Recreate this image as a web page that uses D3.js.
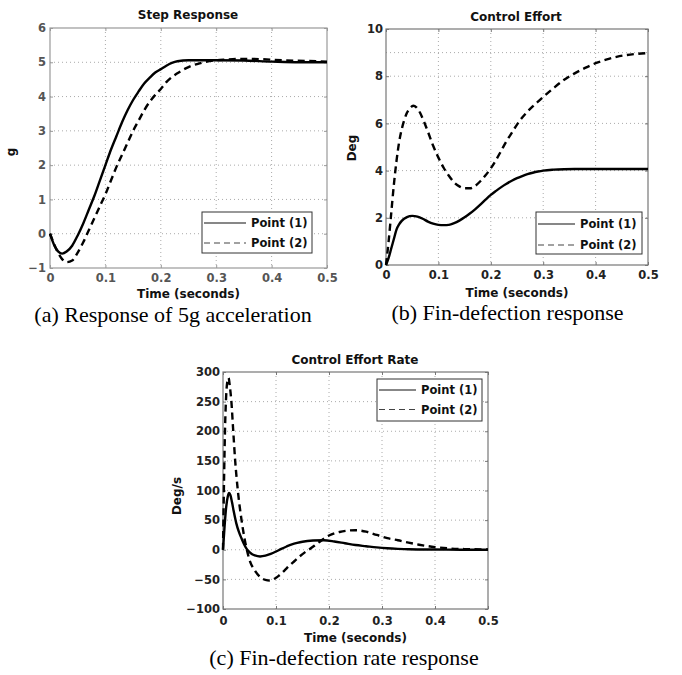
<!DOCTYPE html>
<html>
<head>
<meta charset="utf-8">
<script src="https://cdn.jsdelivr.net/npm/d3@7"></script>
<style>
  body { margin: 0; background: #fff; }
  svg text { font-family: "DejaVu Sans", sans-serif; font-weight: bold; }
  svg text.cap { font-family: "Liberation Serif", "Times New Roman", serif; font-weight: normal; }
</style>
</head>
<body>
<svg id="fig" width="682" height="675"></svg>
<script>
// ---- data ----
const xTicks = [0, 0.1, 0.2, 0.3, 0.4, 0.5];
const legendNames = ["Point (1)", "Point (2)"];

// (a) step response, g
const stepT1 = [0,0.008,0.015,0.022,0.03,0.04,0.05,0.06,0.07,0.08,0.09,0.1,0.11,0.12,0.13,0.14,0.15,0.16,0.17,0.18,0.19,0.2,0.21,0.22,0.23,0.25,0.3,0.35,0.4,0.45,0.5];
const stepP1 = [0,-0.35,-0.52,-0.58,-0.52,-0.35,-0.05,0.3,0.7,1.1,1.55,2.0,2.45,2.85,3.25,3.6,3.9,4.15,4.38,4.55,4.7,4.8,4.9,4.98,5.03,5.06,5.06,5.05,5.02,5.0,5.0];
const stepT2 = [0,0.01,0.02,0.03,0.04,0.05,0.06,0.07,0.08,0.09,0.1,0.11,0.12,0.13,0.14,0.15,0.16,0.17,0.18,0.19,0.2,0.21,0.22,0.23,0.24,0.25,0.27,0.29,0.32,0.35,0.38,0.42,0.46,0.5];
const stepP2 = [0,-0.4,-0.7,-0.83,-0.78,-0.55,-0.25,0.1,0.45,0.8,1.15,1.55,1.95,2.3,2.65,3.0,3.3,3.6,3.85,4.05,4.22,4.42,4.57,4.68,4.78,4.86,4.97,5.04,5.08,5.1,5.09,5.06,5.04,5.02];
const stepYTicks = [-1, 0, 1, 2, 3, 4, 5, 6];

// (b) control effort, deg
const effT1 = [0,0.005,0.01,0.015,0.02,0.025,0.03,0.04,0.05,0.06,0.07,0.08,0.09,0.1,0.11,0.12,0.13,0.14,0.15,0.16,0.17,0.18,0.19,0.2,0.21,0.22,0.23,0.24,0.25,0.26,0.27,0.28,0.29,0.3,0.32,0.34,0.36,0.4,0.45,0.5];
const effP1 = [0,0.3,0.7,1.1,1.5,1.72,1.87,2.03,2.08,2.05,1.96,1.84,1.75,1.7,1.69,1.7,1.77,1.88,2.02,2.18,2.36,2.56,2.77,2.97,3.14,3.3,3.44,3.57,3.68,3.77,3.85,3.91,3.96,4.0,4.04,4.06,4.07,4.07,4.07,4.07];
const effT2 = [0,0.005,0.01,0.015,0.02,0.025,0.03,0.035,0.04,0.046,0.052,0.058,0.065,0.072,0.08,0.09,0.1,0.11,0.12,0.13,0.14,0.15,0.16,0.17,0.18,0.19,0.2,0.21,0.22,0.23,0.24,0.25,0.26,0.27,0.28,0.29,0.3,0.32,0.34,0.36,0.38,0.4,0.42,0.44,0.46,0.48,0.5];
const effP2 = [0,1.0,2.2,3.4,4.4,5.2,5.75,6.15,6.45,6.65,6.75,6.68,6.45,6.1,5.65,5.05,4.55,4.12,3.78,3.5,3.33,3.25,3.25,3.35,3.55,3.8,4.1,4.45,4.85,5.25,5.6,5.95,6.25,6.5,6.72,6.92,7.12,7.5,7.85,8.12,8.35,8.55,8.7,8.82,8.9,8.95,8.98];
const effYTicks = [0, 2, 4, 6, 8, 10];
const effYGrid = [2, 4, 6, 8, 9];

// (c) control effort rate, deg/s
const rateT1 = [0,0.003,0.006,0.009,0.0115,0.014,0.017,0.02,0.025,0.03,0.035,0.04,0.045,0.05,0.055,0.06,0.07,0.08,0.09,0.1,0.11,0.12,0.13,0.14,0.15,0.17,0.19,0.21,0.23,0.25,0.27,0.29,0.31,0.33,0.35,0.4,0.45,0.5];
const rateP1 = [0,40,72,90,96,92,80,66,45,30,19,9,1,-4,-7.5,-9.5,-11.3,-10,-7,-3,1.5,5.5,9,11.5,13.5,15.5,16,14,11,8,6,4,2.5,1.5,0.8,0.3,0.1,0];
const rateT2 = [0,0.002,0.004,0.006,0.008,0.0105,0.013,0.016,0.019,0.023,0.028,0.035,0.04,0.045,0.05,0.06,0.07,0.08,0.088,0.095,0.105,0.115,0.125,0.135,0.145,0.155,0.165,0.18,0.2,0.22,0.25,0.27,0.29,0.31,0.33,0.35,0.37,0.4,0.43,0.46,0.5];
const rateP2 = [0,120,210,260,283,290,275,248,205,150,100,50,22,0,-17,-35,-46,-51,-52,-50,-44,-36,-27,-19,-11,-4,2,12,24,30,33,30.5,25,19.5,16,12,8.5,4.5,2,1,0.5];
const rateYTicks = [-100, -50, 0, 50, 100, 150, 200, 250, 300];

const svg = d3.select("#fig");

function panel(o) {
  const g = svg.append("g");
  const x = d3.scaleLinear().domain([0, 0.5]).range([o.left, o.right]);
  const y = d3.scaleLinear().domain(d3.extent(o.yTicks)).range([o.bottom, o.top]);

  // dotted grid
  g.append("g").selectAll("line").data(xTicks.slice(1, -1)).join("line")
    .attr("x1", d => x(d)).attr("x2", d => x(d))
    .attr("y1", o.top).attr("y2", o.bottom);
  g.append("g").selectAll("line").data(o.yGrid || o.yTicks.slice(1, -1)).join("line")
    .attr("x1", o.left).attr("x2", o.right)
    .attr("y1", d => y(d)).attr("y2", d => y(d));
  g.selectAll("g line").attr("stroke", "#aaa").attr("stroke-width", 1).attr("stroke-dasharray", "1,3");

  // axes, MATLAB style ticks pointing inward
  g.append("g").attr("transform", "translate(0," + o.bottom + ")")
    .call(d3.axisBottom(x).tickValues(xTicks).tickSize(-3).tickPadding(o.xPad).tickFormat(d3.format("")));
  g.append("g").attr("transform", "translate(" + o.left + ",0)")
    .call(d3.axisLeft(y).tickValues(o.yTicks).tickSize(-3).tickPadding(o.yPad).tickFormat(d3.format("")));
  g.append("g").attr("transform", "translate(0," + o.top + ")")
    .call(d3.axisTop(x).tickValues(xTicks).tickSize(-3).tickFormat(""));
  g.append("g").attr("transform", "translate(" + o.right + ",0)")
    .call(d3.axisRight(y).tickValues(o.yTicks).tickSize(-3).tickFormat(""));
  g.selectAll(".domain").remove();
  g.selectAll(".tick line").attr("stroke", o.axisColor);
  g.selectAll(".tick text").attr("font-size", "11.5px").attr("fill", o.textColor)
    .style("font-family", "'DejaVu Sans', sans-serif").style("font-weight", "bold");
  g.append("rect").attr("x", o.left).attr("y", o.top)
    .attr("width", o.right - o.left).attr("height", o.bottom - o.top)
    .attr("fill", "none").attr("stroke", o.axisColor).attr("stroke-width", 1.2);

  // curves
  const line = d3.line().x(d => x(d[0])).y(d => y(d[1])).curve(d3.curveMonotoneX);
  g.append("path").datum(d3.zip(o.t1, o.v1)).attr("d", line)
    .attr("fill", "none").attr("stroke", "#000").attr("stroke-width", 2.4);
  g.append("path").datum(d3.zip(o.t2, o.v2)).attr("d", line)
    .attr("fill", "none").attr("stroke", "#000").attr("stroke-width", 2.4)
    .attr("stroke-dasharray", "7,4.5");

  // labels
  g.append("text").attr("x", o.titleX).attr("y", o.titleY).attr("text-anchor", "middle")
    .attr("font-size", "12px").attr("fill", "#111").text(o.title);
  g.append("text").attr("x", (o.left + o.right) / 2).attr("y", o.xLabelY).attr("text-anchor", "middle")
    .attr("font-size", "12px").attr("fill", "#111").text("Time (seconds)");
  g.append("text").attr("transform", "translate(" + o.yLabelX + "," + o.yLabelY + ") rotate(-90)")
    .attr("text-anchor", "middle").attr("font-size", "12px").attr("fill", "#111").text(o.yLabel);
  g.append("text").attr("class", "cap").attr("x", o.capX).attr("y", o.capY)
    .attr("text-anchor", "middle").attr("font-size", "22px").attr("fill", "#000").text(o.caption);

  // legend
  const L = o.legend;
  const lg = g.append("g");
  lg.append("rect").attr("x", L.x).attr("y", L.y).attr("width", L.w).attr("height", L.h)
    .attr("fill", "#fff").attr("stroke", "#333").attr("stroke-width", 1);
  legendNames.forEach((name, i) => {
    const ly0 = L.y + L.row0 + i * L.dy;
    lg.append("line").attr("x1", L.x + 2).attr("x2", L.x + 2 + L.len)
      .attr("y1", ly0).attr("y2", ly0)
      .attr("stroke", i ? "#444" : "#111").attr("stroke-width", 1.2)
      .attr("stroke-dasharray", i ? "6,4" : null);
    lg.append("text").attr("x", L.x + L.len + 7).attr("y", ly0 + 4.2)
      .attr("font-size", "11.5px").attr("fill", "#111").text(name);
  });
}

panel({
  left: 50, right: 327, top: 28, bottom: 268, yTicks: stepYTicks,
  t1: stepT1, v1: stepP1, t2: stepT2, v2: stepP2,
  xPad: 5.5, yPad: 4, axisColor: "#999", textColor: "#555",
  title: "Step Response", titleX: 188, titleY: 18.5, xLabelY: 298,
  yLabel: "g", yLabelX: 15, yLabelY: 152,
  caption: "(a) Response of 5g acceleration", capX: 173, capY: 322,
  legend: { x: 202, y: 212, w: 110, h: 41, row0: 11, dy: 20, len: 42 }
});

panel({
  left: 386, right: 648, top: 29, bottom: 265, yTicks: effYTicks, yGrid: effYGrid,
  t1: effT1, v1: effP1, t2: effT2, v2: effP2,
  xPad: 6, yPad: 3, axisColor: "#777", textColor: "#222",
  title: "Control Effort", titleX: 516, titleY: 20.5, xLabelY: 297,
  yLabel: "Deg", yLabelX: 356, yLabelY: 148,
  caption: "(b) Fin-defection response", capX: 507.5, capY: 320,
  legend: { x: 536, y: 212, w: 106, h: 42, row0: 12, dy: 21, len: 37 }
});

panel({
  left: 223, right: 488, top: 372, bottom: 609, yTicks: rateYTicks,
  t1: rateT1, v1: rateP1, t2: rateT2, v2: rateP2,
  xPad: 7.5, yPad: 3, axisColor: "#777", textColor: "#222",
  title: "Control Effort Rate", titleX: 355, titleY: 364, xLabelY: 642,
  yLabel: "Deg/s", yLabelX: 181, yLabelY: 496,
  caption: "(c) Fin-defection rate response", capX: 344, capY: 665,
  legend: { x: 377, y: 379, w: 105, h: 42, row0: 11, dy: 19.5, len: 37 }
});
</script>
</body>
</html>
